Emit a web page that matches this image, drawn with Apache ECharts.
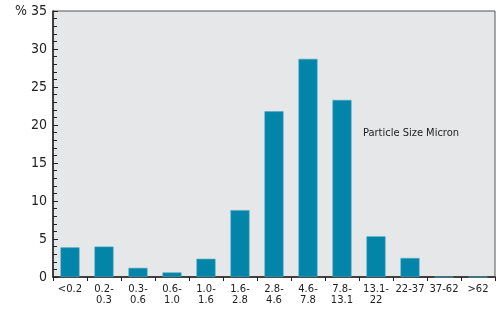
<!DOCTYPE html>
<html>
<head>
<meta charset="utf-8">
<script src="https://cdn.jsdelivr.net/npm/echarts@6/dist/echarts.min.js"></script>
<style>
  html, body { margin: 0; padding: 0; background: #fff; }
  #main { width: 501px; height: 310px; }
</style>
</head>
<body>
<div id="main"></div>
<script>
// particle size classes (micron)
var sizeClasses = ['<0.2', '0.2-\n0.3', '0.3-\n0.6', '0.6-\n1.0', '1.0-\n1.6', '1.6-\n2.8', '2.8-\n4.6',
  '4.6-\n7.8', '7.8-\n13.1', '13.1-\n22', '22-37', '37-62', '>62'];
var percentValues = [3.9, 4.0, 1.2, 0.6, 2.4, 8.8, 21.8, 28.7, 23.3, 5.35, 2.5, 0, 0];
var yTicks = [0, 5, 10, 15, 20, 25, 30, 35];

var chart = echarts.init(document.getElementById('main'));

var option = {
  animation: false,
  textStyle: { fontFamily: 'DejaVu Sans' },
  grid: {
    left: 53,
    right: 6,
    top: 11,
    bottom: 33,
    show: true,
    backgroundColor: '#e6e7e9',
    borderColor: '#555',
    borderWidth: 1
  },
  xAxis: {
    type: 'category',
    data: sizeClasses,
    axisLine: { lineStyle: { color: '#222', width: 1.5 } },
    axisTick: { show: true, length: 4, lineStyle: { color: '#222' } },
    axisLabel: {
      color: '#222',
      fontSize: 10,
      lineHeight: 11,
      interval: 0,
      margin: 7
    }
  },
  yAxis: {
    type: 'value',
    min: yTicks[0],
    max: yTicks[yTicks.length - 1],
    interval: 5,
    axisLine: { show: true, lineStyle: { color: '#222', width: 1.5 } },
    axisTick: { show: true, inside: true, length: 5, lineStyle: { color: '#222' } },
    minorTick: { show: true, splitNumber: 5, length: 4, lineStyle: { color: '#222' } },
    splitLine: { show: false },
    axisLabel: {
      color: '#222',
      fontSize: 14,
      fontFamily: 'DejaVu Sans Condensed',
      margin: 6,
      formatter: function (v) {
        return v === 35 ? '% 35' : String(v);
      }
    }
  },
  series: [
    {
      type: 'bar',
      data: percentValues,
      barWidth: '56%',
      itemStyle: {
        color: '#0285a9',
        borderColor: '#4aa6c2',
        borderWidth: 0.6
      }
    }
  ],
  graphic: [
    {
      type: 'text',
      left: 363,
      top: 128,
      style: {
        text: 'Particle Size Micron',
        fill: '#222',
        font: '11px "DejaVu Sans Condensed"'
      }
    }
  ]
};

chart.setOption(option);
</script>
</body>
</html>
